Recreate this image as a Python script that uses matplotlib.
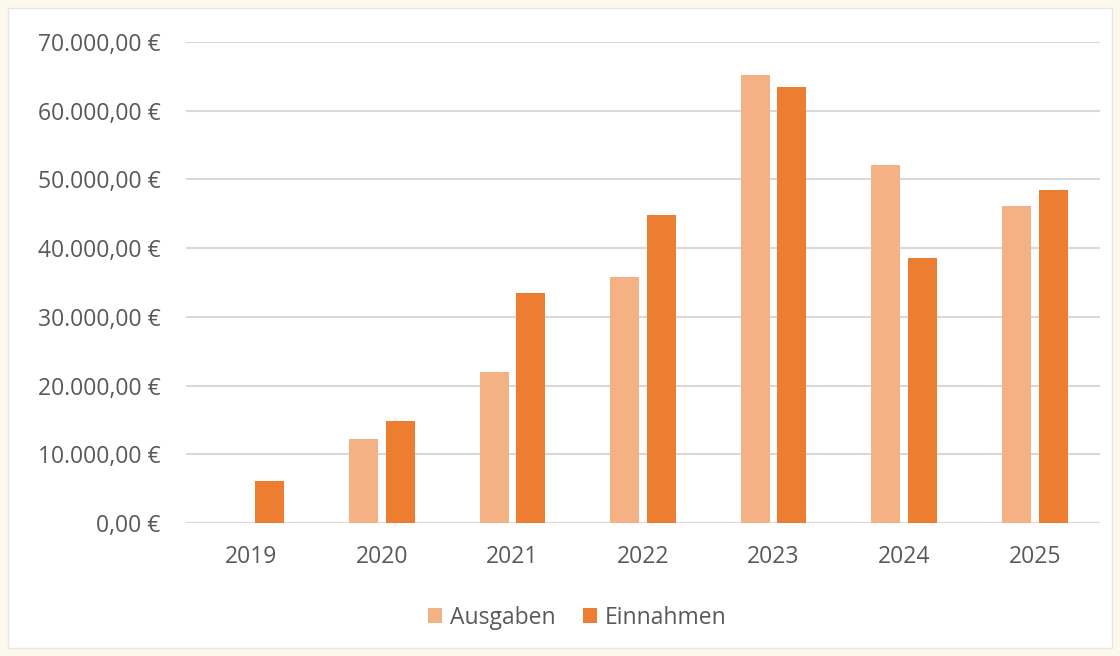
import numpy as np
import matplotlib.pyplot as plt
from matplotlib.patches import Rectangle
from matplotlib.ticker import FuncFormatter

# Daten
jahre = ["2019", "2020", "2021", "2022", "2023", "2024", "2025"]
ausgaben = [0, 12200, 22000, 35800, 65200, 52100, 46200]
einnahmen = [6100, 14800, 33400, 44800, 63500, 38600, 48400]

farbe_ausgaben = "#F4B183"
farbe_einnahmen = "#ED7D31"
grau = "#595959"

plt.rcParams["font.family"] = ["Open Sans", "DejaVu Sans"]

fig = plt.figure(figsize=(11.2, 6.56), dpi=100)
fig.patch.set_facecolor("#FDF8EC")
fig.patches.append(Rectangle((8 / 1120, 8 / 656), 1104 / 1120, 640 / 656,
                             transform=fig.transFigure, facecolor="white",
                             edgecolor="#E6E6E6", linewidth=1, zorder=-1))

ax = fig.add_axes([186 / 1120, 133 / 656, 914 / 1120, 481 / 656])
ax.set_zorder(1)
ax.set_facecolor("none")

x = np.arange(len(jahre))
breite = 0.222
abstand = 0.03
ax.bar(x - breite / 2 - abstand, ausgaben, breite, color=farbe_ausgaben,
       label="Ausgaben", zorder=3)
ax.bar(x + breite / 2 + abstand, einnahmen, breite, color=farbe_einnahmen,
       label="Einnahmen", zorder=3)

ax.set_xlim(-0.5, len(jahre) - 0.5)
ax.set_ylim(0, 70000)
ax.set_yticks(np.arange(0, 70001, 10000))


def euro(v, pos):
    s = f"{v:,.2f}".replace(",", "X").replace(".", ",").replace("X", ".")
    return s + " €"


ax.yaxis.set_major_formatter(FuncFormatter(euro))
ax.set_xticks(x)
ax.set_xticklabels(jahre)

ax.grid(axis="y", color="#D9D9D9", linewidth=1.5, zorder=0)
for s in ax.spines.values():
    s.set_visible(False)
ax.tick_params(axis="both", length=0, colors=grau, labelsize=16.5)
ax.tick_params(axis="y", pad=18.5)
ax.tick_params(axis="x", pad=16)

ax.legend(loc="center", bbox_to_anchor=(0.428, -0.197), ncol=2,
          frameon=False, fontsize=16.5, labelcolor=grau, handlelength=0.6,
          handleheight=0.6, handletextpad=0.35, columnspacing=1.2)

plt.savefig("out.png", dpi=100, facecolor=fig.get_facecolor())
